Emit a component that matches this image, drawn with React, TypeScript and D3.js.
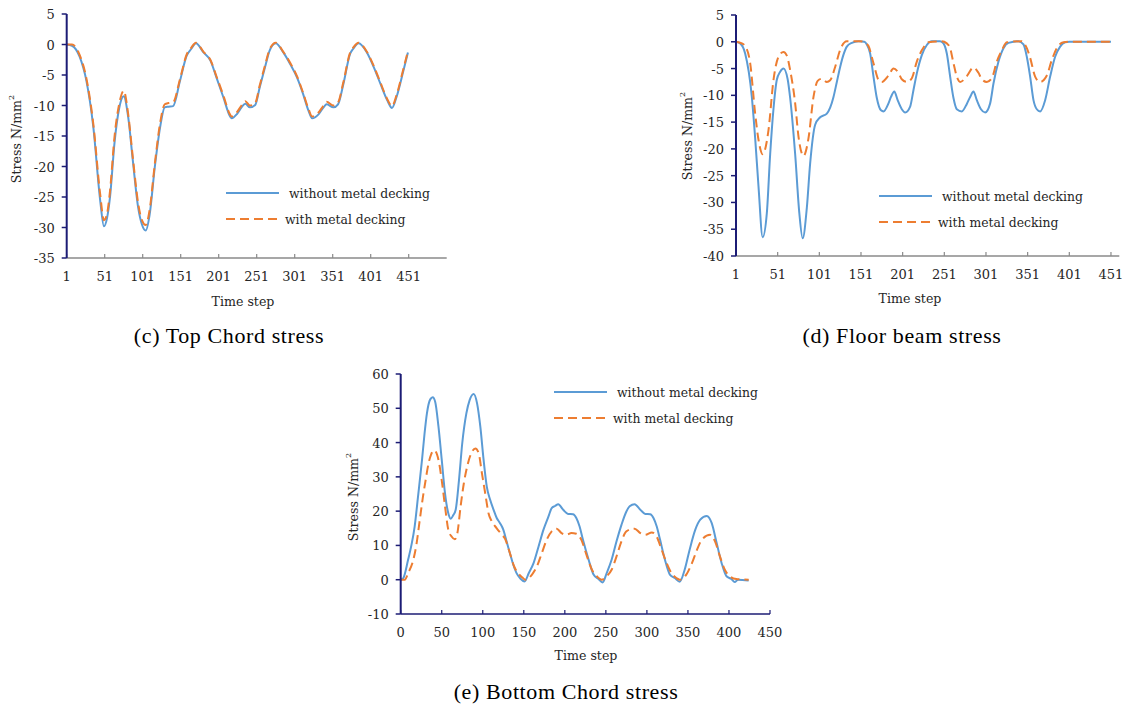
import React from 'react';
import * as d3 from 'd3';

// ---------- (c) Top Chord stress ----------
const cTime = [1, 8, 18, 27, 36, 45, 50, 54, 58, 64, 70, 76, 82, 88, 95, 100, 105, 110, 117, 124, 130, 135, 141, 150, 159, 165, 171, 181, 190, 198, 207, 216, 218, 225, 231, 236, 242, 249, 255, 262, 268, 276, 286, 295, 304, 312, 319, 324, 332, 339, 343, 352, 358, 365, 374, 378, 385, 396, 405, 414, 423, 429, 435, 444, 450];
const cWithout = [0, -0.2, -2, -6, -13.5, -25.5, -29.8, -28.5, -25, -16, -10.5, -8.5, -12, -19, -26.7, -29.5, -30.5, -28, -20, -13.5, -10.3, -10.2, -10.1, -6, -1.8, -0.7, 0.2, -1.3, -2.6, -5.4, -8.6, -11.8, -12.1, -11.4, -10.3, -9.7, -10.3, -9.9, -7, -3.7, -1, 0.2, -1.3, -3.2, -5.4, -8.1, -10.8, -12.1, -11.5, -10.3, -9.8, -10.3, -9.8, -6.5, -1.5, -0.7, 0.2, -1.3, -3.7, -6.5, -9.2, -10.4, -8.6, -4.3, -1.3];
const cWith = [0, 0, -1.7, -5.6, -13, -24.5, -28.8, -27.8, -24, -15, -9.8, -7.6, -11.5, -18.5, -26, -28.8, -29.6, -27.2, -19.5, -12.8, -9.8, -9.6, -9.5, -5.7, -1.6, -0.5, 0.3, -1.2, -2.5, -5.2, -8.3, -11.5, -11.8, -11.1, -10, -9.3, -10, -9.6, -6.7, -3.4, -0.8, 0.3, -1.2, -3.0, -5.2, -7.9, -10.5, -11.8, -11.2, -10, -9.4, -10, -9.5, -6.2, -1.3, -0.5, 0.3, -1.2, -3.5, -6.3, -9, -10.1, -8.3, -4, -1.1];
const cXTicks = [1, 51, 101, 151, 201, 251, 301, 351, 401, 451];
const cYTicks = [5, 0, -5, -10, -15, -20, -25, -30, -35];

// ---------- (d) Floor beam stress ----------
const dTimeWithout = [1, 6, 12, 20, 24, 28, 33, 38, 42, 46, 50, 54, 58, 63, 66, 72, 77, 81, 86, 90, 96, 102, 110, 114, 118, 122, 126, 130, 134, 140, 148, 155, 158, 162, 166, 170, 175, 178, 184, 187, 191, 195, 200, 204, 210, 214, 218, 224, 230, 236, 246, 250, 254, 258, 262, 266, 272, 278, 282, 286, 290, 295, 300, 306, 310, 316, 322, 328, 340, 346, 350, 354, 358, 362, 366, 372, 378, 384, 390, 396, 401, 451];
const dWithout = [0, -0.3, -2.2, -10.3, -18, -27, -36.5, -32, -21, -12.5, -7.1, -5.6, -5, -7, -10.5, -21, -32, -36.7, -31, -22.7, -15.5, -14.1, -13.4, -12.3, -10.3, -7.5, -4.7, -2.4, -0.9, -0.2, 0.1, 0, -0.5, -2.2, -6.5, -10.5, -12.8, -13, -11.5, -10.3, -9.3, -10.9, -12.6, -13.2, -12.1, -9, -5.9, -2.5, -0.6, 0.1, 0.1, -0.3, -2.2, -6.5, -10.5, -12.6, -13, -11.6, -10.3, -9.3, -10.9, -12.6, -13.2, -11.5, -7.8, -3.7, -1.2, -0.2, 0.1, -0.5, -2.8, -6.5, -10.9, -12.6, -13, -10.9, -6.5, -2.8, -0.9, -0.1, 0, 0];
const dTimeWith = [1, 8, 12, 18, 24, 28, 33, 40, 46, 52, 58, 62, 66, 72, 76, 82, 88, 94, 99, 104, 110, 114, 120, 126, 134, 150, 156, 160, 166, 172, 176, 184, 190, 196, 200, 206, 212, 218, 224, 232, 248, 254, 258, 262, 266, 270, 278, 286, 292, 296, 302, 308, 314, 320, 326, 344, 350, 354, 360, 366, 374, 380, 386, 394, 401, 451];
const dWith = [0, -0.3, -0.8, -4, -13.4, -18.3, -21, -16.5, -7.1, -2.8, -1.9, -2.6, -5.3, -11.5, -17.7, -21.3, -18, -10.3, -7.3, -6.9, -7.5, -7.2, -4.7, -1.5, 0.1, 0.1, -0.2, -0.8, -4, -7.1, -7.5, -6.3, -5, -5.8, -7, -7.5, -6.8, -3.7, -1.6, -0.1, 0.1, -0.3, -1.2, -4, -6.5, -7.5, -6.4, -4.8, -5.8, -7, -7.5, -6.8, -3.7, -1.6, -0.1, 0.1, -1.2, -3, -6.5, -7.5, -6.3, -3.4, -1.2, -0.1, 0, 0];
const dXTicks = [1, 51, 101, 151, 201, 251, 301, 351, 401, 451];
const dYTicks = [5, 0, -5, -10, -15, -20, -25, -30, -35, -40];

// ---------- (e) Bottom Chord stress ----------
const eTimeWithout = [0, 3, 9, 13, 17, 21, 26, 29, 32, 36, 39, 42, 46, 50, 54, 58, 61, 64, 67, 71, 75, 80, 84, 89, 93, 97, 101, 105, 109, 113, 117, 121, 125, 129, 133, 137, 141, 146, 151, 156, 162, 168, 174, 180, 184, 188, 192, 198, 204, 210, 214, 218, 222, 229, 235, 241, 246, 251, 257, 263, 269, 275, 279, 285, 292, 298, 304, 308, 312, 316, 322, 328, 334, 340, 346, 352, 359, 365, 373, 379, 385, 391, 397, 403, 407, 411, 424];
const eWithout = [0, 0.4, 5.8, 10, 15.5, 24, 35, 42.5, 48.6, 52.6, 53.2, 51.9, 44.7, 35, 25.2, 19.4, 17.8, 18.8, 20.4, 29, 39.8, 48.5, 52.4, 54.2, 51.5, 44.7, 35, 27, 23.3, 20.5, 18, 16.5, 14.6, 11.2, 7.8, 4.5, 2, 0.3, -0.5, 1.9, 4.9, 9.7, 14.6, 18.4, 20.9, 21.5, 22, 20.4, 19.2, 19.1, 18, 15.5, 11.7, 5.8, 1.5, 0.2, -0.8, 1.9, 5.8, 11.2, 16, 19.9, 21.4, 22, 20.4, 19.2, 19.1, 18, 15.5, 11.7, 5.8, 1.5, 0.5, -0.6, 2.9, 8.7, 14.6, 17.5, 18.6, 16.5, 10.7, 4.9, 1, 0.2, -0.7, 0, -0.2];
const eTimeWith = [0, 5, 9, 15, 19, 23, 27, 30, 34, 37, 41, 46, 50, 54, 58, 62, 66, 69, 73, 77, 82, 86, 91, 95, 99, 103, 107, 111, 117, 123, 127, 133, 138, 143, 148, 152, 160, 166, 172, 178, 184, 190, 196, 202, 208, 214, 220, 227, 233, 239, 245, 251, 257, 263, 269, 275, 285, 292, 298, 306, 312, 318, 324, 330, 336, 340, 348, 355, 361, 367, 377, 383, 389, 395, 401, 409, 424];
const eWith = [0, 0, 1.9, 5.5, 10, 17, 24, 28.5, 34, 36.5, 37.7, 35, 29, 21.4, 14.6, 12.6, 11.8, 13.5, 21.4, 28.2, 34, 36.9, 38.3, 36.9, 31, 25.2, 19.4, 17, 15, 13.2, 12, 7.8, 4, 1.9, 0.7, 0, 1.5, 3.9, 7.8, 11.7, 14.1, 14.9, 13.6, 13.1, 13.6, 13.4, 11.7, 6.8, 2.9, 1, 0, 1, 2.9, 6.8, 11.2, 14.1, 14.9, 13.6, 13.1, 13.8, 12.5, 8.7, 4.9, 1.9, 0.5, 0, 1.5, 4.9, 8.7, 11.7, 13.1, 11.2, 6.8, 2.9, 1, 0.2, 0];
const eXTicks = [0, 50, 100, 150, 200, 250, 300, 350, 400, 450];
const eYTicks = [60, 50, 40, 30, 20, 10, 0, -10];

const seriesNames = ['without metal decking', 'with metal decking'];
const captions = ['(c) Top Chord stress', '(d) Floor beam stress', '(e) Bottom Chord stress'];

const BLUE = '#5b9bd5';
const ORANGE = '#ed7d31';
const NAVY = '#1c1c75';
const GRAY = '#8a8a8a';
const FONT = "'DejaVu Serif', serif";
const CAPFONT = "'Liberation Serif', 'Times New Roman', serif";
const TXT = '#262626';

type PanelProps = {
  x0: number; x1: number; y0: number; y1: number;
  xDomain: [number, number]; yDomain: [number, number];
  xTicks: number[]; yTicks: number[];
  tA: number[]; vA: number[]; tB: number[]; vB: number[];
  xAxisColor: string;
  legX: number; legY: number;
  yTitleX: number; yTitleY: number;
  xTitleX: number; xTitleY: number;
};

function Panel(p: PanelProps) {
  const x = d3.scaleLinear().domain(p.xDomain).range([p.x0, p.x1]);
  const y = d3.scaleLinear().domain(p.yDomain).range([p.y1, p.y0]);
  const line = d3.line<[number, number]>().x(d => x(d[0])).y(d => y(d[1])).curve(d3.curveMonotoneX);
  const a = line(p.tA.map((t, i) => [t, p.vA[i]] as [number, number])) || '';
  const b = line(p.tB.map((t, i) => [t, p.vB[i]] as [number, number])) || '';
  const axisY = y(p.yDomain[0]);
  const axisX = x(p.xDomain[0]);
  return (
    <g>
      <path d={a} fill="none" stroke={BLUE} strokeWidth={2} strokeLinejoin="round" />
      <path d={b} fill="none" stroke={ORANGE} strokeWidth={2} strokeDasharray="9,5" strokeLinejoin="round" />
      {/* x axis */}
      <line x1={axisX} x2={p.x1} y1={axisY} y2={axisY} stroke={p.xAxisColor} strokeWidth={1.5} />
      {p.xTicks.map(t => (
        <g key={'xt' + t}>
          <line x1={x(t)} x2={x(t)} y1={axisY} y2={axisY - 4} stroke={p.xAxisColor} strokeWidth={1.2} />
          <text x={x(t)} y={axisY + 23} textAnchor="middle" fontFamily={FONT} fontSize={13} fill={TXT}>{t}</text>
        </g>
      ))}
      {/* y axis */}
      <line x1={axisX} x2={axisX} y1={y(p.yDomain[1])} y2={axisY} stroke={NAVY} strokeWidth={2} />
      {p.yTicks.map(v => (
        <g key={'yt' + v}>
          <line x1={axisX - 5} x2={axisX} y1={y(v)} y2={y(v)} stroke={NAVY} strokeWidth={1.5} />
          <text x={axisX - 12} y={y(v) + 5} textAnchor="end" fontFamily={FONT} fontSize={13} fill={TXT}>{v}</text>
        </g>
      ))}
      {/* titles */}
      <text transform={`translate(${p.yTitleX},${p.yTitleY}) rotate(-90)`} textAnchor="middle" dominantBaseline="central" fontFamily={FONT} fontSize={12.6} fill={TXT}>
        Stress N/mm<tspan fontSize={8} dy={-5}>2</tspan>
      </text>
      <text x={p.xTitleX} y={p.xTitleY} textAnchor="middle" fontFamily={FONT} fontSize={12.6} fill={TXT}>Time step</text>
      {/* legend */}
      <line x1={p.legX} x2={p.legX + 53} y1={p.legY} y2={p.legY} stroke={BLUE} strokeWidth={2} />
      <text x={p.legX + 63} y={p.legY + 5} fontFamily={FONT} fontSize={12.4} fill={TXT}>{seriesNames[0]}</text>
      <line x1={p.legX} x2={p.legX + 53} y1={p.legY + 26} y2={p.legY + 26} stroke={ORANGE} strokeWidth={2} strokeDasharray="9,5" />
      <text x={p.legX + 59} y={p.legY + 31} fontFamily={FONT} fontSize={12.4} fill={TXT}>{seriesNames[1]}</text>
    </g>
  );
}

export default function App() {
  return (
    <svg width={1126} height={708} style={{ position: 'absolute', left: 0, top: 0, background: '#fff' }}>
      <rect width={1126} height={708} fill="#fff" />
      <Panel x0={66.7} x1={446.7} y0={14} y1={258} xDomain={[1, 501]} yDomain={[-35, 5]}
        xTicks={cXTicks} yTicks={cYTicks} tA={cTime} vA={cWithout} tB={cTime} vB={cWith}
        xAxisColor={GRAY} legX={226} legY={193} yTitleX={16} yTitleY={139} xTitleX={243} xTitleY={306} />
      <Panel x0={736} x1={1119.3} y0={15} y1={256} xDomain={[1, 461]} yDomain={[-40, 5]}
        xTicks={dXTicks} yTicks={dYTicks} tA={dTimeWithout} vA={dWithout} tB={dTimeWith} vB={dWith}
        xAxisColor={GRAY} legX={879} legY={196} yTitleX={687} yTitleY={136} xTitleX={910} xTitleY={303} />
      <Panel x0={400.7} x1={770} y0={374} y1={614} xDomain={[0, 450]} yDomain={[-10, 60]}
        xTicks={eXTicks} yTicks={eYTicks} tA={eTimeWithout} vA={eWithout} tB={eTimeWith} vB={eWith}
        xAxisColor={NAVY} legX={554} legY={392} yTitleX={353} yTitleY={497} xTitleX={586} xTitleY={660} />
      <text x={229} y={343} textAnchor="middle" fontFamily={CAPFONT} fontSize={22} letterSpacing={0.6} fill="#000">{captions[0]}</text>
      <text x={902} y={343} textAnchor="middle" fontFamily={CAPFONT} fontSize={22} letterSpacing={0.6} fill="#000">{captions[1]}</text>
      <text x={566} y={699} textAnchor="middle" fontFamily={CAPFONT} fontSize={22} letterSpacing={0.6} fill="#000">{captions[2]}</text>
    </svg>
  );
}
